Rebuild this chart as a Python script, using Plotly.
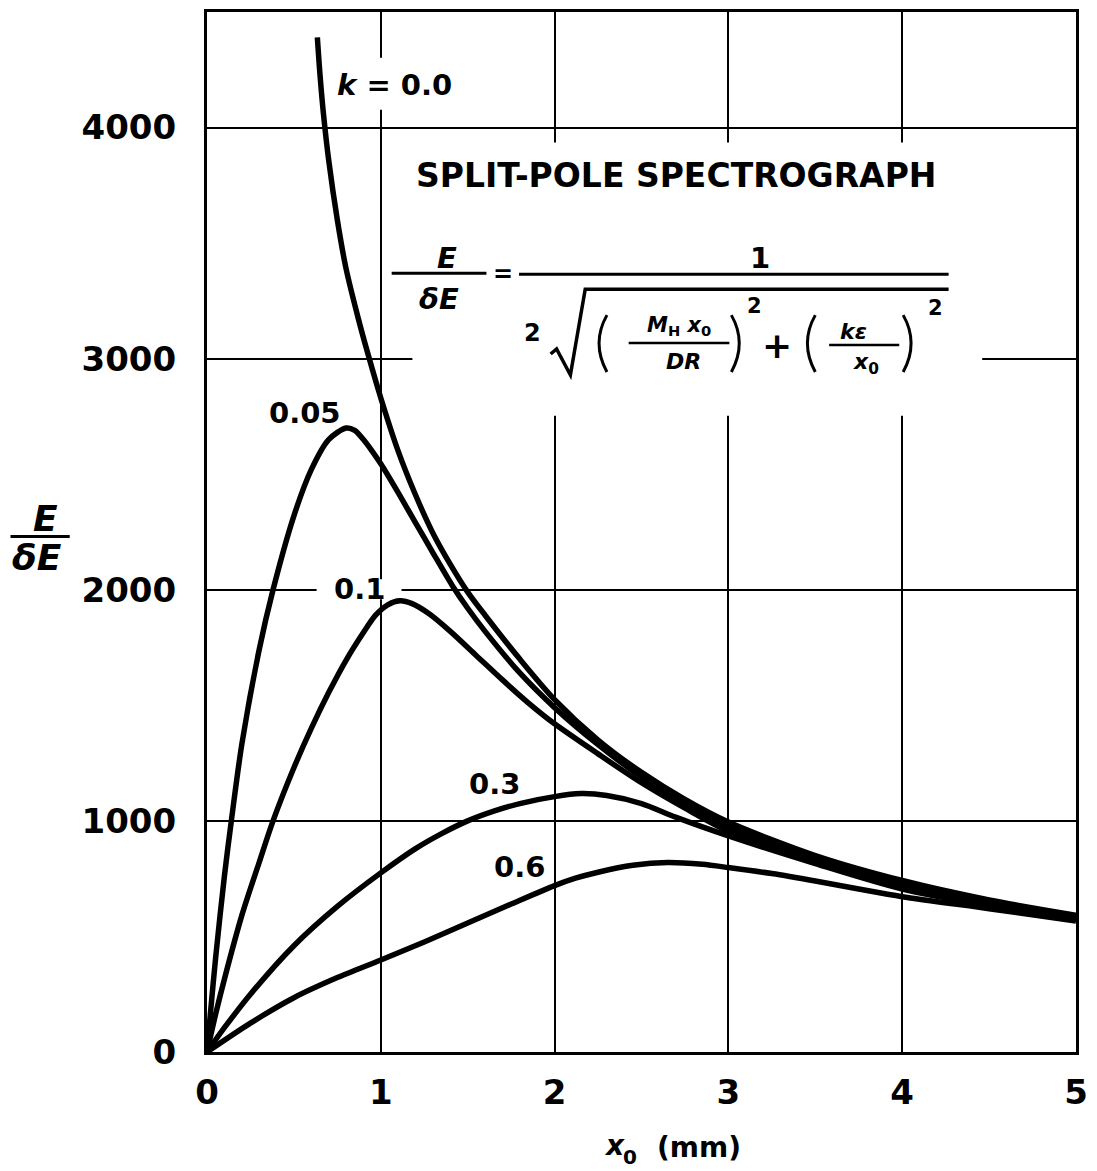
import plotly.graph_objects as go

# ---- curve data: E/dE versus x0 (mm) for several k values ----
k_labels = ["k = 0.0", "0.05", "0.1", "0.3", "0.6"]

x_k00 = [0.635, 0.65, 0.67, 0.70, 0.75, 0.80, 0.87, 0.93, 1.0, 1.1, 1.2, 1.3, 1.4, 1.5,
         1.6, 1.8, 2.0, 2.25, 2.5, 2.75, 3.0, 3.5, 4.0, 4.5, 5.0]
y_k00 = [4390, 4230, 4060, 3860, 3600, 3390, 3175, 3010, 2830, 2600, 2410, 2245, 2110, 1990,
         1890, 1700, 1525, 1350, 1210, 1093, 995, 850, 742, 658, 592]

x_k005 = [0, 0.02, 0.05, 0.1, 0.14, 0.2, 0.3, 0.38, 0.5, 0.6, 0.7, 0.8, 0.85, 0.9, 0.95,
          1.0, 1.1, 1.2, 1.3, 1.41, 1.5, 1.6, 1.8, 2.0, 2.25, 2.5, 2.75, 3.0, 3.5, 4.0,
          4.5, 5.0]
y_k005 = [0, 170, 410, 760, 1000, 1330, 1740, 2000, 2320, 2520, 2650, 2700, 2690, 2650, 2600,
          2545, 2420, 2290, 2160, 2020, 1920, 1820, 1640, 1490, 1330, 1190, 1075, 975, 835, 728,
          647, 587]

x_k01 = [0, 0.05, 0.1, 0.2, 0.3, 0.38, 0.5, 0.6, 0.7, 0.8, 0.9, 0.97, 1.04, 1.11, 1.18,
         1.28, 1.4, 1.55, 1.7, 1.85, 2.0, 2.25, 2.5, 2.75, 3.0, 3.5, 4.0, 4.5, 5.0]
y_k01 = [0, 165, 315, 590, 820, 1000, 1230, 1400, 1555, 1695, 1815, 1890, 1935, 1952, 1940,
         1895, 1820, 1715, 1610, 1510, 1420, 1290, 1165, 1055, 955, 825, 718, 640, 580]

x_k03 = [0, 0.1, 0.25, 0.5, 0.75, 1.0, 1.2, 1.35, 1.5, 1.65, 1.8, 2.0, 2.15, 2.3, 2.5,
         2.7, 3.0, 3.5, 4.0, 4.5, 5.0]
y_k03 = [0, 105, 250, 460, 630, 775, 880, 945, 1000, 1042, 1075, 1105, 1118, 1110, 1075,
         1015, 935, 815, 705, 633, 575]

x_k06 = [0, 0.25, 0.5, 0.75, 1.0, 1.25, 1.5, 1.75, 2.0, 2.12, 2.25, 2.45, 2.65, 2.85, 3.0,
         3.25, 3.5, 3.75, 4.0, 4.5, 5.0]
y_k06 = [0, 125, 235, 322, 398, 476, 558, 640, 720, 752, 778, 808, 820, 812, 798,
         772, 740, 705, 672, 620, 567]

x_ticks = [0, 1, 2, 3, 4, 5]
y_ticks = [0, 1000, 2000, 3000, 4000]
X_MAX, Y_MAX = 5, 4500

# ---- page geometry (pixels) ----
W, H = 1097, 1171
L, R, T, B = 207, 10, 9, 119
PW, PH = W - L - R, H - T - B
FONT = "DejaVu Sans"


def paper(px, py):
    return (px - L) / PW, (T + PH - py) / PH


def data(px, py):
    a, b = paper(px, py)
    return a * X_MAX, b * Y_MAX


def path(cmds):
    out = []
    for c in cmds:
        if isinstance(c, str):
            out.append(c)
        else:
            x, y = paper(*c)
            out.append(f"{x:.5f},{y:.5f}")
    return " ".join(out)


fig = go.Figure()
for xs, ys in [(x_k00, y_k00), (x_k005, y_k005), (x_k01, y_k01), (x_k03, y_k03), (x_k06, y_k06)]:
    fig.add_trace(go.Scatter(x=xs, y=ys, mode="lines",
                             line=dict(color="black", width=5.5, shape="spline", smoothing=0.8),
                             showlegend=False, hoverinfo="skip"))

shapes = []
# white patches that interrupt the grid behind the labels and the formula
for (x0, y0, x1, y1) in [(415, 140, 992, 414), (338, 55, 456, 107), (318, 578, 404, 598)]:
    a, b = data(x0, y1)
    c, d = data(x1, y0)
    shapes.append(dict(type="rect", xref="x", yref="y", x0=a, y0=b, x1=c, y1=d,
                       fillcolor="white", line=dict(width=0), layer="between"))


def seg(x0, y0, x1, y1, w=3):
    a, b = paper(x0, y0)
    c, d = paper(x1, y1)
    shapes.append(dict(type="line", xref="paper", yref="paper", x0=a, y0=b, x1=c, y1=d,
                       line=dict(color="black", width=w), layer="above"))


def curve(cmds, w=3):
    shapes.append(dict(type="path", xref="paper", yref="paper", path=path(cmds),
                       line=dict(color="black", width=w), layer="above"))


# formula strokes
seg(394, 271, 490, 271)            # E / dE bar
seg(523, 272, 958, 272)            # main fraction bar
seg(634, 341, 736, 341, 2.5)       # M_H x0 / DR bar
seg(837, 343, 908, 343, 2.5)       # k eps / x0 bar
curve(["M", (555, 352), "L", (561, 347), "L", (575, 373), "L", (590, 287), "L", (958, 287)], 3.5)
curve(["M", (612, 313), "Q", (596, 341), (612, 370)])
curve(["M", (738, 313), "Q", (754, 341), (738, 370)])
curve(["M", (823, 313), "Q", (807, 341), (823, 370)])
curve(["M", (912, 313), "Q", (928, 341), (912, 370)])
# y-axis title bar
seg(8, 535, 68, 535, 3)

annotations = []


def text(s, px, py, size, xanchor="center"):
    x, y = paper(px, py)
    annotations.append(dict(text=s, x=x, y=y, xref="paper", yref="paper", showarrow=False,
                            xanchor=xanchor, yanchor="middle",
                            font=dict(family=FONT, size=size, color="black", weight="bold")))


text("SPLIT-POLE SPECTROGRAPH", 682, 173, 33)
text("<i>E</i>", 450, 256, 29)
text("<i>δE</i>", 442, 297, 29)
text("=", 507, 272, 24)
text("1", 767, 256, 29)
text("2", 537, 331, 24)
text("<i>M</i><sub>H</sub> <i>x</i><sub>0</sub>", 685, 324, 21)
text("<i>DR</i>", 690, 360, 22)
text("2", 761, 304, 21)
text("+", 784, 343, 36)
text("<i>kε</i>", 862, 329, 22)
text("<i>x</i><sub>0</sub>", 874, 362, 22)
text("2", 945, 306, 21)

# curve labels
label_pos = [(397, 82), (306, 411), (361, 588), (498, 783), (523, 866)]
for lab, (px, py) in zip(k_labels, label_pos):
    s = lab.replace("k", "<i>k</i>")
    text(s, px, py, 29)

# axis titles
text("<i>E</i>", 43, 517, 36)
text("<i>δE</i>", 35, 556, 36)
text("<i>x</i>", 620, 1146, 28)
text("0", 635, 1157, 20)
text("(mm)", 705, 1148, 28)

axis_common = dict(showline=True, linecolor="black", linewidth=3, mirror=True,
                   showgrid=True, gridcolor="black", gridwidth=2, zeroline=False,
                   ticks="", tickfont=dict(family=FONT, size=34, color="black", weight="bold"),
                   ticklabeloverflow="allow", fixedrange=True)

fig.update_layout(
    width=W, height=H,
    margin=dict(l=L, r=R, t=T, b=B),
    paper_bgcolor="white", plot_bgcolor="white",
    xaxis=dict(range=[0, X_MAX], tickvals=x_ticks, ticktext=[str(v) for v in x_ticks],
               ticklabelstandoff=8, **axis_common),
    yaxis=dict(range=[0, Y_MAX], tickvals=y_ticks, ticktext=[str(v) for v in y_ticks],
               ticklabelstandoff=21, **axis_common),
    shapes=shapes,
    annotations=annotations,
    hovermode=False,
)

fig.write_html("out.html")
